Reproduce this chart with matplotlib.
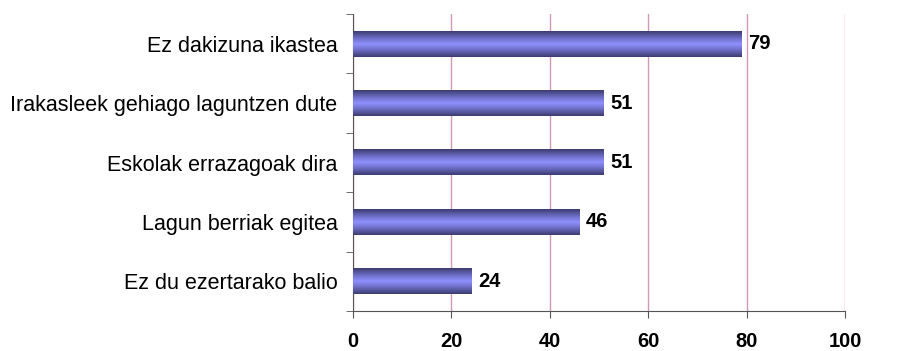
import matplotlib.pyplot as plt
import numpy as np
from matplotlib.colors import LinearSegmentedColormap

categories = ["Ez dakizuna ikastea", "Irakasleek gehiago laguntzen dute",
              "Eskolak errazagoak dira", "Lagun berriak egitea",
              "Ez du ezertarako balio"]
values = [79, 51, 51, 46, 24]
xticks = [0, 20, 40, 60, 80, 100]

plt.rcParams['font.family'] = ['Liberation Sans', 'DejaVu Sans']

fig = plt.figure(figsize=(9.19, 3.51), dpi=100)
ax = fig.add_axes([0.384, 0.114, 0.5355, 0.846])

pos = np.arange(len(categories))[::-1]
bars = ax.barh(pos, values, height=0.43, color='#8080e8', zorder=2)

# horizontal banded gradient like the original
cmap = LinearSegmentedColormap.from_list('bar', ['#3c3c70', '#6a6ac0', '#9090ff', '#6a6ac0', '#3c3c70'])
grad = np.linspace(0, 1, 64).reshape(-1, 1)
for b in bars:
    x0, y0 = b.get_x(), b.get_y()
    w, h = b.get_width(), b.get_height()
    ax.imshow(grad, cmap=cmap, aspect='auto', extent=(x0, x0 + w, y0, y0 + h),
              zorder=3, interpolation='bilinear')
    b.set_visible(False)

for p, v in zip(pos, values):
    ax.text(v + 1.4, p, str(v), va='center', ha='left', fontsize=14.5, fontweight='bold')

ax.set_xlim(0, 100)
ax.set_ylim(-0.5, len(categories) - 0.5)
ax.set_xticks(xticks)
ax.set_xticklabels([str(t) for t in xticks], fontsize=14.5, fontweight='bold')
ax.set_yticks(pos)
ax.set_yticklabels(categories, fontsize=15.5)
ax.tick_params(axis='y', which='major', length=0, pad=11)
ax.set_yticks(np.arange(-0.5, len(categories), 1), minor=True)
ax.tick_params(axis='y', which='minor', length=5, color='#555555')
ax.tick_params(axis='x', length=5, color='#555555', pad=10)

ax.grid(axis='x', color='#cc9ab4', linewidth=1, zorder=1)
for s in ['top', 'right']:
    ax.spines[s].set_visible(False)
for s in ['left', 'bottom']:
    ax.spines[s].set_color('#555555')

fig.savefig('out.png', dpi=100)
